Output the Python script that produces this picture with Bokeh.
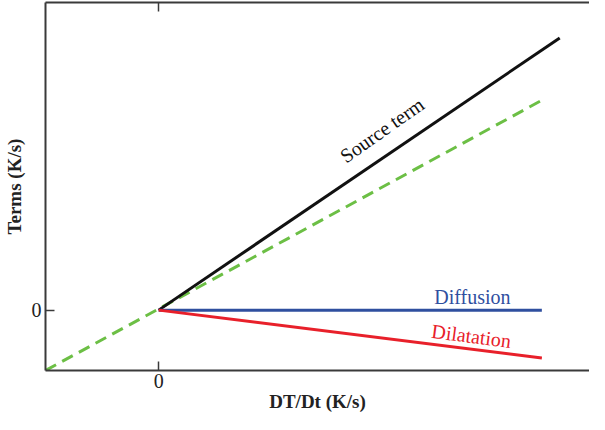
import math
from bokeh.plotting import figure
from bokeh.models import Range1d, LinearAxis, FixedTicker, Label
from bokeh.embed import file_html
from bokeh.resources import INLINE

# Data (arbitrary units)
source_x = [0.0, 4.04]
source_y = [0.0, 2.84]
total_x = [-1.14, 3.86]
total_y = [-0.63, 2.19]
diffusion_x = [0.0, 3.86]
diffusion_y = [0.0, 0.0]
dilatation_x = [0.0, 3.86]
dilatation_y = [0.0, -0.50]
x_ticks = [0]
y_ticks = [0]
x_tick_labels = {0: "0"}
y_tick_labels = {0: "0"}

FONT = "Liberation Serif"
AXC = "#3a3a3a"

p = figure(width=589, height=414, output_backend="svg", toolbar_location=None,
           x_range=Range1d(-1.14, 4.34), y_range=Range1d(-0.63, 3.21),
           min_border_left=41, min_border_right=0, min_border_top=2, min_border_bottom=37,
           x_axis_location="below", y_axis_location="left")
p.grid.visible = False
p.outline_line_color = None
p.background_fill_color = "white"
p.border_fill_color = "white"

for ax in (p.xaxis[0], p.yaxis[0]):
    ax.axis_line_color = AXC
    ax.axis_line_width = 2
    ax.major_tick_line_color = AXC
    ax.major_tick_line_width = 1.5
    ax.major_tick_in = 9
    ax.major_tick_out = 0
    ax.minor_tick_line_color = None
    ax.major_label_text_font = FONT
    ax.major_label_text_font_size = "20px"
    ax.major_label_text_color = "#222222"
    ax.axis_label_text_font = FONT
    ax.axis_label_text_font_style = "bold"
    ax.axis_label_text_font_size = "19px"
    ax.axis_label_text_color = "#222222"

p.xaxis[0].ticker = FixedTicker(ticks=x_ticks)
p.xaxis[0].major_label_overrides = x_tick_labels
p.xaxis[0].axis_label = "DT/Dt (K/s)"
p.xaxis[0].major_label_standoff = 3
p.xaxis[0].axis_label_standoff = 0
p.yaxis[0].ticker = FixedTicker(ticks=y_ticks)
p.yaxis[0].major_label_overrides = y_tick_labels
p.yaxis[0].axis_label = "Terms (K/s)"
p.yaxis[0].major_label_standoff = 4
p.yaxis[0].axis_label_standoff = 4

top = LinearAxis(ticker=FixedTicker(ticks=x_ticks), axis_line_color=AXC, axis_line_width=2,
                 major_tick_line_color=AXC, major_tick_line_width=1.5, major_tick_in=9,
                 major_tick_out=0, minor_tick_line_color=None, major_label_text_font_size="0px",
                 major_label_text_color=None)
p.add_layout(top, "above")

p.line(total_x, total_y, line_color="#6cbf45", line_width=3, line_dash="12 7")
p.line(source_x, source_y, line_color="#111111", line_width=3)
p.line(diffusion_x, diffusion_y, line_color="#2f4f9f", line_width=3)
p.line(dilatation_x, dilatation_y, line_color="#e8202a", line_width=3)

p.add_layout(Label(x=2.25, y=1.88, text="Source term", angle=math.radians(35.1),
                   text_align="center", text_baseline="middle", text_font=FONT,
                   text_font_size="20px", text_color="#111111"))
p.add_layout(Label(x=3.16, y=0.14, text="Diffusion", text_align="center",
                   text_baseline="middle", text_font=FONT, text_font_size="20px",
                   text_color="#2f4f9f"))
p.add_layout(Label(x=3.15, y=-0.27, text="Dilatation", angle=math.radians(-7.4),
                   text_align="center", text_baseline="middle", text_font=FONT,
                   text_font_size="20px", text_color="#e8202a"))

open("out.html", "w").write(file_html(p, INLINE))
